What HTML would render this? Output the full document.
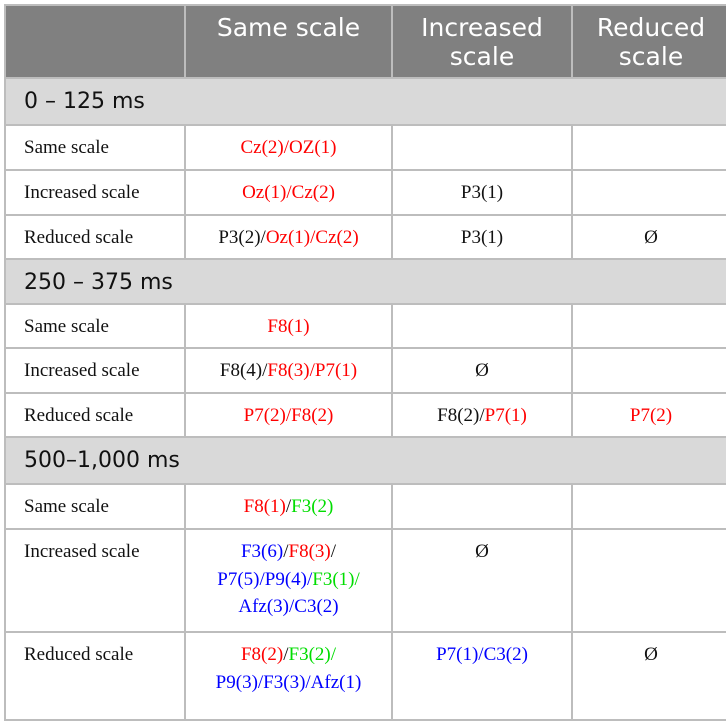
<!DOCTYPE html>
<html><head><meta charset="utf-8"><style>
body{margin:0;width:726px;height:705px;background:#fff;position:relative;overflow:hidden}
.c{position:absolute;box-sizing:border-box;border:2px solid #bdbdbd;margin:-1px 0 0 -1px}
.h{background:#808080;color:#fff;font:25px/29px "DejaVu Sans","Liberation Sans",sans-serif;text-align:center;padding-top:7px}
.s{background:#d9d9d9;color:#111;font:22px "DejaVu Sans","Liberation Sans",sans-serif;padding:10px 0 0 18px}
.b{font:19px/27.5px "Liberation Serif",serif;color:#111;text-align:center;padding-top:8px}
.l{text-align:left;padding-left:18px}
.r{color:#ff0000}.u{color:#0000ff}.g{color:#00dd00}
</style></head><body>
<div class="c h" style="left:5px;top:5px;width:182px;height:75px"></div>
<div class="c h" style="left:185px;top:5px;width:209px;height:75px">Same scale</div>
<div class="c h" style="left:392px;top:5px;width:182px;height:75px">Increased<br>scale</div>
<div class="c h" style="left:572px;top:5px;width:160px;height:75px">Reduced<br>scale</div>

<div class="c s" style="left:5px;top:78px;width:727px;height:49px">0 – 125 ms</div>
<div class="c b l" style="left:5px;top:125px;width:182px;height:47px">Same scale</div>
<div class="c b" style="left:185px;top:125px;width:209px;height:47px"><span class="r">Cz(2)/OZ(1)</span></div>
<div class="c b" style="left:392px;top:125px;width:182px;height:47px"></div>
<div class="c b" style="left:572px;top:125px;width:160px;height:47px"></div>
<div class="c b l" style="left:5px;top:170px;width:182px;height:47px">Increased scale</div>
<div class="c b" style="left:185px;top:170px;width:209px;height:47px"><span class="r">Oz(1)/Cz(2)</span></div>
<div class="c b" style="left:392px;top:170px;width:182px;height:47px">P3(1)</div>
<div class="c b" style="left:572px;top:170px;width:160px;height:47px"></div>
<div class="c b l" style="left:5px;top:215px;width:182px;height:47px">Reduced scale</div>
<div class="c b" style="left:185px;top:215px;width:209px;height:47px">P3(2)/<span class="r">Oz(1)/Cz(2)</span></div>
<div class="c b" style="left:392px;top:215px;width:182px;height:47px">P3(1)</div>
<div class="c b" style="left:572px;top:215px;width:160px;height:47px">Ø</div>

<div class="c s" style="left:5px;top:259px;width:727px;height:47px">250 – 375 ms</div>
<div class="c b l" style="left:5px;top:304px;width:182px;height:46px">Same scale</div>
<div class="c b" style="left:185px;top:304px;width:209px;height:46px"><span class="r">F8(1)</span></div>
<div class="c b" style="left:392px;top:304px;width:182px;height:46px"></div>
<div class="c b" style="left:572px;top:304px;width:160px;height:46px"></div>
<div class="c b l" style="left:5px;top:348px;width:182px;height:47px">Increased scale</div>
<div class="c b" style="left:185px;top:348px;width:209px;height:47px">F8(4)/<span class="r">F8(3)/P7(1)</span></div>
<div class="c b" style="left:392px;top:348px;width:182px;height:47px">Ø</div>
<div class="c b" style="left:572px;top:348px;width:160px;height:47px"></div>
<div class="c b l" style="left:5px;top:393px;width:182px;height:46px">Reduced scale</div>
<div class="c b" style="left:185px;top:393px;width:209px;height:46px"><span class="r">P7(2)/F8(2)</span></div>
<div class="c b" style="left:392px;top:393px;width:182px;height:46px">F8(2)/<span class="r">P7(1)</span></div>
<div class="c b" style="left:572px;top:393px;width:160px;height:46px"><span class="r">P7(2)</span></div>

<div class="c s" style="left:5px;top:437px;width:727px;height:49px">500–1,000 ms</div>
<div class="c b l" style="left:5px;top:484px;width:182px;height:47px">Same scale</div>
<div class="c b" style="left:185px;top:484px;width:209px;height:47px"><span class="r">F8(1)</span>/<span class="g">F3(2)</span></div>
<div class="c b" style="left:392px;top:484px;width:182px;height:47px"></div>
<div class="c b" style="left:572px;top:484px;width:160px;height:47px"></div>
<div class="c b l" style="left:5px;top:529px;width:182px;height:105px">Increased scale</div>
<div class="c b" style="left:185px;top:529px;width:209px;height:105px"><span class="u">F3(6)</span>/<span class="r">F8(3)</span>/<br><span class="u">P7(5)/P9(4)/</span><span class="g">F3(1)/</span><br><span class="u">Afz(3)/C3(2)</span></div>
<div class="c b" style="left:392px;top:529px;width:182px;height:105px">Ø</div>
<div class="c b" style="left:572px;top:529px;width:160px;height:105px"></div>
<div class="c b l" style="left:5px;top:632px;width:182px;height:90px">Reduced scale</div>
<div class="c b" style="left:185px;top:632px;width:209px;height:90px"><span class="r">F8(2)</span>/<span class="g">F3(2)/</span><br><span class="u">P9(3)/F3(3)/Afz(1)</span></div>
<div class="c b" style="left:392px;top:632px;width:182px;height:90px"><span class="u">P7(1)/C3(2)</span></div>
<div class="c b" style="left:572px;top:632px;width:160px;height:90px">Ø</div>
</body></html>
